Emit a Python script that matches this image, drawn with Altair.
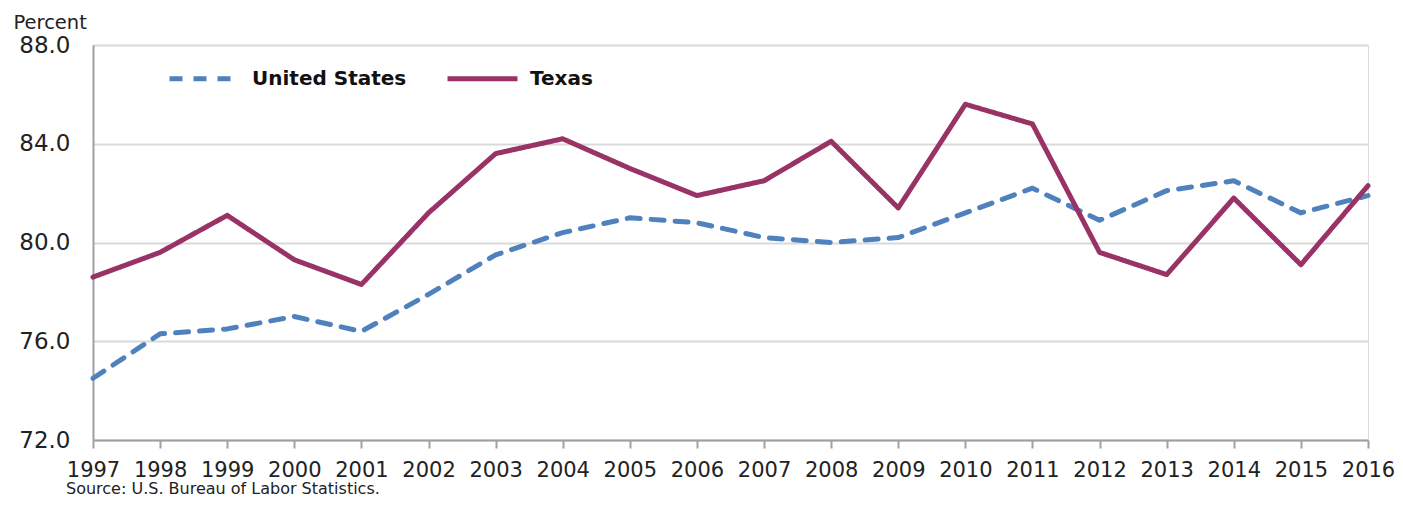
import altair as alt
import pandas as pd

years = list(range(1997, 2017))
us = [74.5, 76.3, 76.5, 77.0, 76.4, 77.9, 79.5, 80.4, 81.0, 80.8,
      80.2, 80.0, 80.2, 81.2, 82.2, 80.9, 82.1, 82.5, 81.2, 81.9]
texas = [78.6, 79.6, 81.1, 79.3, 78.3, 81.2, 83.6, 84.2, 83.0, 81.9,
         82.5, 84.1, 81.4, 85.6, 84.8, 79.6, 78.7, 81.8, 79.1, 82.3]
series_names = ["United States", "Texas"]
y_ticks = [72, 76, 80, 84, 88]
source_note = ["Source: U.S. Bureau of Labor Statistics."]

rows = []
for name, vals in zip(series_names, [us, texas]):
    for yr, v in zip(years, vals):
        rows.append({"Year": yr, "Value": v, "Series": name})
df = pd.DataFrame(rows)

FONT = "DejaVu Sans"

legend_opts = dict(title=None, orient="none", legendX=74, legendY=-4,
                   direction="horizontal", symbolType="stroke",
                   symbolSize=4900, symbolStrokeWidth=5,
                   labelFont=FONT, labelFontSize=20, labelFontWeight="bold",
                   labelColor="#111111", labelOffset=10, columnPadding=30)

lines = alt.Chart(df).mark_line(strokeCap="round", strokeJoin="round", strokeWidth=5).encode(
    x=alt.X("Year:Q",
            scale=alt.Scale(domain=[1997, 2016], nice=False, zero=False),
            axis=alt.Axis(values=years, format="d", title=None, grid=False,
                          tickSize=8, tickColor="#A0A0A0", domainColor="#A0A0A0",
                          domainWidth=2, tickWidth=2,
                          labelFontSize=21, labelFont=FONT, labelColor="#222222",
                          labelPadding=11, labelFlush=False, labelOverlap=False)),
    y=alt.Y("Value:Q",
            scale=alt.Scale(domain=[72, 88], nice=False, zero=False),
            axis=alt.Axis(values=y_ticks, format=".1f", title="Percent",
                          titleAngle=0, titleX=-80, titleY=-17, titleAlign="left",
                          titleBaseline="alphabetic", titleFont=FONT, titleFontSize=19.5,
                          titleFontWeight="normal", titleColor="#222222",
                          ticks=False, grid=True, gridColor="#D9D9D9", gridWidth=2,
                          domainColor="#A0A0A0", domainWidth=2,
                          labelFontSize=23, labelFont=FONT, labelColor="#222222",
                          labelPadding=23)),
    color=alt.Color("Series:N",
                    scale=alt.Scale(domain=series_names, range=["#4F81BD", "#993366"]),
                    legend=alt.Legend(**legend_opts)),
    strokeDash=alt.StrokeDash("Series:N",
                              scale=alt.Scale(domain=series_names, range=[[13, 11], [1, 0]]),
                              legend=alt.Legend(**legend_opts)),
)

source = alt.Chart(pd.DataFrame({"t": source_note})).mark_text(
    align="left", baseline="alphabetic", font=FONT, fontSize=16, color="#222222"
).encode(text="t:N", x=alt.value(-27), y=alt.value(449))

chart = alt.layer(lines, source).properties(
    width=1275, height=395,
    autosize=alt.AutoSizeParams(type="none"),
    padding={"left": 85, "top": 37, "right": 27, "bottom": 58},
).configure_view(stroke="#D9D9D9", strokeWidth=2).configure(background="white")

chart.save("out.html", embed_options={"renderer": "svg", "actions": False})
